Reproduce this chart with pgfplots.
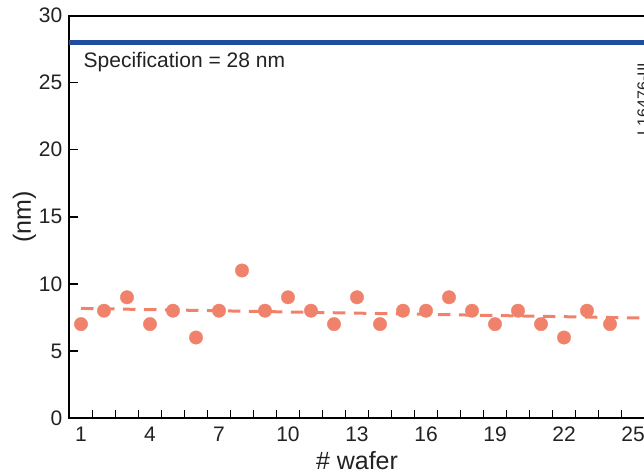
\documentclass[border=0pt]{standalone}
\usepackage{fontspec}
\setmainfont{Liberation Sans}
\usepackage{pgfplots}
\pgfplotsset{compat=1.18}
\definecolor{specblue}{HTML}{1F4E9E}
\definecolor{salmon}{HTML}{F0826B}
\definecolor{txt}{HTML}{222222}

\begin{document}
\begin{tikzpicture}
\useasboundingbox (-69.5pt,-56pt) rectangle (574.5pt,418pt);
\clip (-69.5pt,-56pt) rectangle (574.5pt,418pt);
\begin{axis}[
  scale only axis,
  width=575pt, height=402.4pt,
  xmin=0.5, xmax=25.5, ymin=0, ymax=30,
  axis line style={line width=2pt, black},
  xtick={1,4,...,25},
  major x tick style={draw=none},
  minor xtick={1.5,2.5,...,24.5},
  ytick={0,5,...,30},
  tick pos=left,
  tick align=inside,
  major tick length=8.5pt, minor tick length=8.5pt,
  tick style={line width=1.5pt, black},
  /pgf/number format/assume math mode=true,
  ticklabel style={font=\fontsize{21}{24}\selectfont, text=txt, inner sep=0pt},
  xticklabel style={anchor=north, yshift=-8.5pt},
  yticklabel style={anchor=east, xshift=-7pt},
  clip=false,
]
% specification limit
\addplot[specblue, line width=5pt] coordinates {(0.5,28) (25.5,28)};
% linear trend of the measurements
\addplot[salmon, line width=3pt, dash pattern=on 12.5pt off 8.5pt] coordinates {(1,8.17) (25.5,7.45)};
% measured values per wafer
\addplot[salmon, only marks, mark=*, mark size=6.7pt, mark options={draw=salmon, fill=salmon, solid}] coordinates {
  (1,7) (2,8) (3,9) (4,7) (5,8) (6,6) (7,8) (8,11) (9,8) (10,9)
  (11,8) (12,7) (13,9) (14,7) (15,8) (16,8) (17,9) (18,8) (19,7) (20,8)
  (21,7) (22,6) (23,8) (24,7)
};
\node[anchor=base west, inner sep=0pt, text=txt, font=\fontsize{21}{24}\selectfont]
  at ([xshift=14pt]axis cs:0.5,26.12) {Specification = 28 nm};
\node[anchor=base, inner sep=0pt, text=txt, font=\fontsize{25}{28}\selectfont]
  at ([yshift=-51pt]rel axis cs:0.5,0) {\# wafer};
\node[rotate=90, inner sep=0pt, text=txt, font=\fontsize{25}{28}\selectfont]
  at ([xshift=-45pt]rel axis cs:0,0.5) {(nm)};
\node[rotate=90, anchor=base, inner sep=0pt, text=txt, font=\fontsize{16}{18}\selectfont]
  at ([xshift=4pt, yshift=319pt]rel axis cs:1,0) {L16476-III};
\end{axis}
\end{tikzpicture}
\end{document}
